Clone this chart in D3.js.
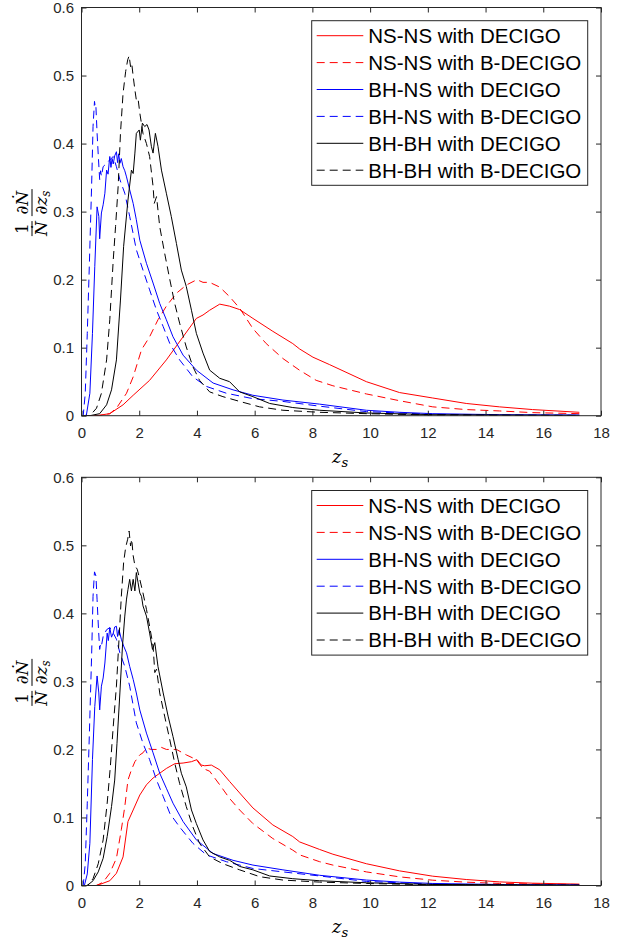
<!DOCTYPE html>
<html>
<head>
<meta charset="utf-8">
<script src="https://cdn.jsdelivr.net/npm/d3@7"></script>
<style>
  body { margin: 0; background: #fff; }
  svg { display: block; }
</style>
</head>
<body>
<div id="chart"></div>
<script>
// redshift distribution of detected sources, two panels

const X_TICKS = [0, 2, 4, 6, 8, 10, 12, 14, 16, 18]
const Y_TICKS = [0, 0.1, 0.2, 0.3, 0.4, 0.5, 0.6]

const LABELS = [
  "NS-NS with DECIGO", "NS-NS with B-DECIGO",
  "BH-NS with DECIGO", "BH-NS with B-DECIGO",
  "BH-BH with DECIGO", "BH-BH with B-DECIGO"
]
const COLORS = ["#ff0000", "#ff0000", "#0000ff", "#0000ff", "#000000", "#000000"]
const DASHED = [false, true, false, true, false, true]

// top panel  [z_s, value]
const topNsD = [[0,0],[0.5,0],[0.98,0.003],[1.44,0.016],[1.79,0.03],[2.36,0.052],[2.94,0.082],[3.52,0.116],[3.98,0.143],[4.21,0.148],[4.44,0.155],[4.79,0.164],[5.13,0.161],[5.48,0.156],[5.94,0.143],[6.63,0.124],[7.32,0.106],[7.56,0.098],[8.02,0.086],[8.6,0.075],[9.87,0.05],[11.02,0.034],[12.17,0.026],[13.33,0.018],[14.48,0.013],[15.63,0.009],[17.25,0.005]]
const topNsB = [[0,0],[0.6,0],[0.98,0.003],[1.21,0.011],[1.56,0.033],[1.79,0.057],[2.08,0.097],[2.36,0.116],[2.65,0.141],[2.94,0.161],[3.29,0.18],[3.63,0.192],[4.0,0.2],[4.21,0.196],[4.44,0.196],[4.79,0.189],[5.13,0.175],[5.48,0.158],[5.94,0.128],[6.4,0.106],[6.98,0.084],[7.55,0.067],[8.13,0.052],[8.71,0.044],[9.87,0.032],[11.02,0.022],[12.17,0.013],[13.33,0.009],[14.48,0.007],[15.63,0.0045],[17.25,0.003]]
const topBnD = [[0,0],[0.1,0],[0.17,0.001],[0.29,0.033],[0.38,0.121],[0.46,0.219],[0.54,0.307],[0.6,0.293],[0.63,0.26],[0.69,0.298],[0.75,0.31],[0.81,0.327],[0.87,0.361],[0.92,0.355],[0.98,0.381],[1.02,0.365],[1.06,0.378],[1.1,0.37],[1.15,0.382],[1.21,0.388],[1.25,0.372],[1.29,0.385],[1.33,0.371],[1.38,0.378],[1.44,0.366],[1.5,0.36],[1.56,0.351],[1.67,0.332],[1.79,0.312],[1.9,0.288],[2.02,0.258],[2.25,0.224],[2.48,0.195],[2.71,0.165],[2.94,0.141],[3.17,0.116],[3.52,0.089],[3.98,0.067],[4.56,0.048],[5.25,0.038],[5.94,0.03],[6.98,0.023],[8.25,0.017],[9.87,0.008],[11.02,0.005],[12.17,0.003],[14.48,0.0015],[17.25,0.001]]
const topBnB = [[0,0],[0.06,0],[0.13,0.033],[0.2,0.121],[0.27,0.219],[0.35,0.337],[0.4,0.425],[0.45,0.462],[0.48,0.452],[0.5,0.454],[0.54,0.415],[0.59,0.376],[0.63,0.347],[0.66,0.36],[0.69,0.352],[0.75,0.366],[0.87,0.371],[0.98,0.376],[1.1,0.381],[1.21,0.366],[1.33,0.347],[1.5,0.327],[1.67,0.293],[1.9,0.244],[2.13,0.214],[2.36,0.185],[2.6,0.155],[2.83,0.131],[3.06,0.106],[3.4,0.082],[3.86,0.057],[4.33,0.043],[5.02,0.033],[5.94,0.025],[6.98,0.021],[8.25,0.014],[9.87,0.006],[11.02,0.004],[12.17,0.002],[14.48,0.001],[17.25,0.0005]]
const topBbD = [[0,0],[0.29,0],[0.63,0.003],[0.87,0.016],[1.04,0.038],[1.21,0.082],[1.35,0.17],[1.46,0.249],[1.61,0.317],[1.73,0.361],[1.79,0.356],[1.85,0.386],[1.9,0.415],[2.0,0.42],[2.04,0.405],[2.11,0.43],[2.19,0.425],[2.27,0.428],[2.34,0.42],[2.42,0.396],[2.48,0.386],[2.56,0.415],[2.65,0.396],[2.77,0.361],[2.94,0.327],[3.11,0.293],[3.29,0.253],[3.46,0.214],[3.63,0.19],[3.81,0.155],[3.98,0.121],[4.21,0.092],[4.44,0.067],[4.79,0.055],[5.13,0.05],[5.48,0.035],[5.94,0.028],[6.52,0.018],[7.32,0.012],[8.25,0.008],[9.87,0.004],[12.17,0.0015],[17.25,0.0005]]
const topBbB = [[0,0],[0.29,0],[0.52,0.011],[0.69,0.033],[0.87,0.082],[0.98,0.141],[1.1,0.229],[1.18,0.278],[1.27,0.337],[1.35,0.415],[1.44,0.474],[1.53,0.506],[1.6,0.523],[1.65,0.529],[1.7,0.513],[1.74,0.518],[1.79,0.499],[1.85,0.479],[1.9,0.464],[1.96,0.466],[2.02,0.445],[2.13,0.415],[2.25,0.4],[2.36,0.381],[2.48,0.337],[2.52,0.312],[2.6,0.322],[2.71,0.278],[2.88,0.239],[3.06,0.2],[3.23,0.165],[3.4,0.136],[3.63,0.101],[3.86,0.072],[4.09,0.052],[4.44,0.035],[4.9,0.028],[5.48,0.021],[6.17,0.013],[6.98,0.008],[8.25,0.005],[9.87,0.003],[12.17,0.001],[17.25,0.0003]]

// bottom panel
const botNsD = [[0,0],[0.5,0],[0.63,0.0015],[0.98,0.007],[1.21,0.018],[1.44,0.042],[1.61,0.094],[1.79,0.111],[2.02,0.133],[2.25,0.148],[2.48,0.158],[2.71,0.165],[2.94,0.172],[3.23,0.179],[3.52,0.18],[3.81,0.182],[4.0,0.185],[4.15,0.177],[4.27,0.176],[4.5,0.177],[4.79,0.17],[5.13,0.153],[5.48,0.136],[5.94,0.114],[6.63,0.089],[7.32,0.072],[7.56,0.064],[8.25,0.053],[8.71,0.046],[9.87,0.032],[11.02,0.0215],[12.17,0.0137],[13.33,0.0088],[14.48,0.0053],[15.63,0.0034],[17.25,0.002]]
const botNsB = [[0,0],[0.52,0],[0.75,0.005],[0.98,0.018],[1.21,0.04],[1.38,0.082],[1.5,0.116],[1.61,0.155],[1.73,0.17],[1.85,0.182],[2.02,0.192],[2.13,0.195],[2.25,0.202],[2.42,0.2],[2.6,0.2],[2.77,0.203],[2.94,0.2],[3.29,0.2],[3.63,0.192],[3.98,0.185],[4.21,0.172],[4.44,0.168],[4.79,0.148],[5.13,0.128],[5.48,0.111],[5.94,0.091],[6.63,0.069],[7.32,0.052],[7.56,0.045],[8.25,0.035],[8.71,0.03],[9.87,0.02],[11.02,0.0127],[12.17,0.0078],[13.33,0.0049],[14.48,0.003],[17.25,0.0015]]
const botBnD = [[0,0],[0.1,0],[0.2,0.017],[0.29,0.062],[0.38,0.185],[0.46,0.263],[0.54,0.308],[0.6,0.283],[0.63,0.258],[0.69,0.293],[0.75,0.305],[0.81,0.327],[0.89,0.371],[0.93,0.36],[0.98,0.379],[1.04,0.365],[1.1,0.371],[1.15,0.38],[1.21,0.381],[1.25,0.366],[1.3,0.376],[1.38,0.362],[1.46,0.352],[1.56,0.342],[1.67,0.322],[1.79,0.303],[1.9,0.283],[2.02,0.258],[2.25,0.224],[2.48,0.195],[2.71,0.165],[2.94,0.143],[3.17,0.121],[3.52,0.094],[3.98,0.067],[4.56,0.047],[5.25,0.037],[5.94,0.03],[6.98,0.023],[8.25,0.015],[9.87,0.008],[11.02,0.005],[12.17,0.003],[14.48,0.0015],[17.25,0.0008]]
const botBnB = [[0,0],[0.06,0],[0.13,0.032],[0.2,0.121],[0.27,0.219],[0.35,0.337],[0.4,0.425],[0.45,0.461],[0.5,0.455],[0.54,0.42],[0.59,0.376],[0.63,0.347],[0.66,0.355],[0.69,0.352],[0.75,0.366],[0.87,0.376],[0.98,0.379],[1.1,0.371],[1.21,0.362],[1.33,0.342],[1.5,0.322],[1.67,0.293],[1.9,0.239],[2.13,0.209],[2.36,0.185],[2.6,0.155],[2.83,0.131],[3.06,0.106],[3.4,0.086],[3.86,0.062],[4.33,0.045],[5.02,0.035],[5.94,0.025],[6.98,0.02],[8.25,0.014],[9.87,0.006],[11.02,0.004],[12.17,0.002],[14.48,0.001],[17.25,0.0005]]
const botBbD = [[0,0],[0.2,0],[0.4,0.007],[0.58,0.02],[0.75,0.04],[0.89,0.072],[1.04,0.116],[1.15,0.155],[1.23,0.209],[1.33,0.283],[1.42,0.352],[1.5,0.396],[1.56,0.421],[1.61,0.435],[1.67,0.45],[1.73,0.433],[1.79,0.45],[1.85,0.433],[1.9,0.46],[1.96,0.445],[2.02,0.43],[2.08,0.425],[2.13,0.411],[2.25,0.396],[2.36,0.371],[2.46,0.347],[2.54,0.357],[2.65,0.322],[2.83,0.283],[3.0,0.249],[3.17,0.219],[3.35,0.185],[3.46,0.165],[3.63,0.145],[3.81,0.111],[3.98,0.091],[4.21,0.067],[4.44,0.05],[4.79,0.042],[5.13,0.037],[5.48,0.028],[5.94,0.023],[6.52,0.014],[7.32,0.01],[8.25,0.007],[9.87,0.004],[12.17,0.0015],[17.25,0.0005]]
const botBbB = [[0,0],[0.2,0],[0.4,0.01],[0.58,0.032],[0.75,0.067],[0.89,0.121],[1.0,0.175],[1.1,0.234],[1.21,0.293],[1.3,0.362],[1.38,0.425],[1.46,0.475],[1.53,0.497],[1.6,0.509],[1.65,0.521],[1.7,0.499],[1.74,0.509],[1.79,0.485],[1.85,0.47],[1.93,0.465],[2.02,0.45],[2.13,0.43],[2.25,0.406],[2.36,0.381],[2.48,0.352],[2.54,0.313],[2.6,0.318],[2.71,0.283],[2.88,0.249],[3.06,0.214],[3.23,0.18],[3.4,0.15],[3.63,0.116],[3.86,0.086],[4.09,0.062],[4.44,0.042],[4.9,0.032],[5.48,0.023],[6.17,0.013],[6.98,0.008],[8.25,0.005],[9.87,0.003],[12.17,0.001],[17.25,0.0003]]

const PANELS = [
  { top: 7.5, series: [topNsD, topNsB, topBnD, topBnB, topBbD, topBbB] },
  { top: 477.3, series: [botNsD, botNsB, botBnD, botBnB, botBbD, botBbB] }
]

const width = 628
const height = 942
const left = 81.5
const right = 601
const plotH = 408.2
const axisColor = "#262626"
const tickFont = "Liberation Sans, Arial, Helvetica, sans-serif"
const mathFont = "DejaVu Serif, Liberation Serif, serif"

const svg = d3.select("#chart").append("svg")
  .attr("width", width)
  .attr("height", height)

const x = d3.scaleLinear().domain([0, 18]).range([left, right])

PANELS.forEach((panel, pi) => {
  const top = panel.top
  const bottom = top + plotH
  const y = d3.scaleLinear().domain([0, 0.6]).range([bottom, top])

  const g = svg.append("g")

  g.append("clipPath").attr("id", "clip" + pi)
    .append("rect")
    .attr("x", left).attr("y", top)
    .attr("width", right - left).attr("height", plotH)

  // curves
  const line = d3.line().x(d => x(d[0])).y(d => y(d[1]))
  panel.series.forEach((data, i) => {
    g.append("path")
      .attr("clip-path", `url(#clip${pi})`)
      .attr("d", line(data))
      .attr("fill", "none")
      .attr("stroke", COLORS[i])
      .attr("stroke-width", 1)
      .attr("stroke-dasharray", DASHED[i] ? "8,5" : null)
  })

  // axes, ticks pointing inward on all four sides
  const yFmt = d => d === 0 ? "0" : d3.format(".1f")(d)
  const axes = [
    g.append("g").attr("transform", `translate(0,${bottom})`)
      .call(d3.axisBottom(x).tickValues(X_TICKS).tickSizeInner(-5).tickSizeOuter(0).tickPadding(12)),
    g.append("g").attr("transform", `translate(0,${top})`)
      .call(d3.axisTop(x).tickValues(X_TICKS).tickSizeInner(-5).tickSizeOuter(0).tickFormat("")),
    g.append("g").attr("transform", `translate(${left},0)`)
      .call(d3.axisLeft(y).tickValues(Y_TICKS).tickSizeInner(-5).tickSizeOuter(0).tickPadding(7.5).tickFormat(yFmt)),
    g.append("g").attr("transform", `translate(${right},0)`)
      .call(d3.axisRight(y).tickValues(Y_TICKS).tickSizeInner(-5).tickSizeOuter(0).tickFormat(""))
  ]
  axes.forEach(a => {
    a.select(".domain").remove()
    a.selectAll(".tick line").attr("stroke", axisColor)
    a.selectAll(".tick text")
      .attr("fill", axisColor)
      .attr("font-family", tickFont)
      .attr("font-size", "15px")
  })

  g.append("rect")
    .attr("x", left).attr("y", top)
    .attr("width", right - left).attr("height", plotH)
    .attr("fill", "none")
    .attr("stroke", axisColor)
    .attr("stroke-width", 1)

  // x label  z_s
  const xl = g.append("text")
    .attr("x", 340)
    .attr("y", bottom + 47)
    .attr("text-anchor", "middle")
    .attr("font-family", mathFont)
    .attr("font-style", "italic")
    .attr("font-size", "18px")
    .attr("fill", "#000")
  xl.append("tspan").text("z")
  xl.append("tspan").attr("font-size", "13px").attr("dy", 4).text("s")

  // y label  (1/N') dN'/dz_s
  const yl = g.append("g")
    .attr("transform", `translate(32,${(top + bottom) / 2}) rotate(-90)`)
    .attr("font-family", mathFont)
    .attr("font-size", "17px")
    .attr("fill", "#000")
  const frac = (cx, w, num, numItalic, den, sub) => {
    yl.append("text").attr("x", cx).attr("y", -4)
      .attr("text-anchor", "middle")
      .attr("font-style", numItalic ? "italic" : "normal").text(num)
    yl.append("line")
      .attr("x1", cx - w / 2).attr("x2", cx + w / 2)
      .attr("y1", 0).attr("y2", 0)
      .attr("stroke", "#000").attr("stroke-width", 1)
    const t = yl.append("text").attr("x", cx).attr("y", 15)
      .attr("text-anchor", "middle").attr("font-style", "italic")
    t.append("tspan").text(den)
    if (sub) t.append("tspan").attr("font-size", "12px").attr("dy", 3).text(sub)
  }
  frac(-17, 15, "1", false, "\u1E44")
  frac(9, 27, "\u2202\u1E44", true, "\u2202z", "s")

  // legend
  const lx = 311.7
  const ly = top + 13.2
  const leg = g.append("g")
  leg.append("rect")
    .attr("x", lx).attr("y", ly)
    .attr("width", 276).attr("height", 164.6)
    .attr("fill", "#fff")
    .attr("stroke", axisColor)
    .attr("stroke-width", 1)
  LABELS.forEach((label, i) => {
    const ry = ly + 15 + i * 26.9
    leg.append("line")
      .attr("x1", lx + 5).attr("x2", lx + 51.6)
      .attr("y1", ry).attr("y2", ry)
      .attr("stroke", COLORS[i])
      .attr("stroke-width", 1)
      .attr("stroke-dasharray", DASHED[i] ? "8,5" : null)
    leg.append("text")
      .attr("x", lx + 56.6)
      .attr("y", ry)
      .attr("dy", "0.36em")
      .attr("font-family", tickFont)
      .attr("font-size", "20.5px")
      .attr("fill", "#000")
      .text(label)
  })
})
</script>
</body>
</html>
